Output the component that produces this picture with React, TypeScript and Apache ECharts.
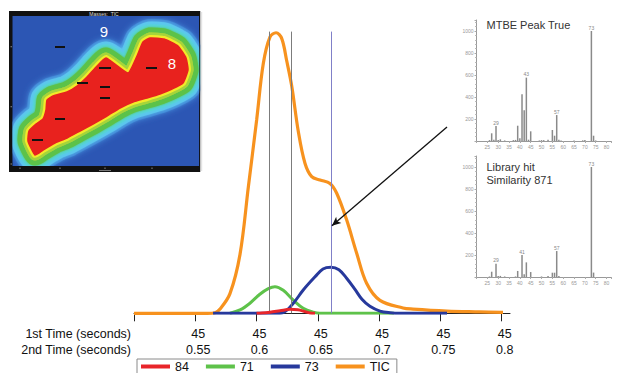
import React, { useEffect, useRef } from 'react';
import * as echarts from 'echarts';

const FONT = '"Liberation Sans", Arial, sans-serif';

// ---------- main chromatogram ----------
const TIME_TICKS = [0.5, 0.55, 0.6, 0.65, 0.7, 0.75, 0.8];
const TIME_LABELS = [0.55, 0.6, 0.65, 0.7, 0.75, 0.8];
const FIRST_TIME_LABEL = '45';
const AXIS_TITLE_1 = '1st Time (seconds)';
const AXIS_TITLE_2 = '2nd Time (seconds)';
const LEGEND_ORDER = ['84', '71', '73', 'TIC'];

const TIC_T = [0.5, 0.53, 0.56, 0.5661, 0.5702, 0.5783, 0.5865, 0.5933, 0.6001, 0.6055, 0.611, 0.6159, 0.6205, 0.6246, 0.6287, 0.634, 0.6395, 0.645, 0.6518, 0.6599, 0.6654, 0.6735, 0.6817, 0.6898, 0.7007, 0.7195, 0.7276, 0.7554, 0.782, 0.8011];
const TIC_V = [0, 0, 0, 0.2, 1.5, 7, 21, 45, 69, 89, 98.5, 100, 98, 90, 81, 65, 53.5, 48.7, 47.5, 46.3, 42.8, 33.3, 21.4, 10.7, 4.6, 1.9, 1.5, 0.8, 0.5, 0.3];

const M71_T = [0.5783, 0.5865, 0.5946, 0.6027, 0.6096, 0.615, 0.6218, 0.63, 0.6381, 0.6463, 0.6517, 0.68, 0.712];
const M71_V = [0, 1.2, 3.6, 6.8, 8.8, 9.5, 8.2, 4.7, 1.8, 0.4, 0, 0, 0];

const M73_T = [0.5645, 0.59, 0.614, 0.6218, 0.63, 0.6381, 0.6477, 0.6542, 0.6607, 0.6672, 0.6735, 0.6803, 0.686, 0.6925, 0.7007, 0.7089, 0.717, 0.7554];
const M73_V = [0, 0, 0, 0.3, 3.6, 8.3, 13, 15.8, 16.4, 15.5, 12.5, 8.5, 5, 2.5, 0.8, 0.2, 0, 0];

const M84_T = [0.6, 0.6044, 0.611, 0.6191, 0.6273, 0.6338, 0.6395, 0.6436, 0.6477];
const M84_V = [0, 0.1, 0.4, 0.9, 1.4, 1.3, 0.6, 0.1, 0];

const GUIDE_TIMES = [0.6104, 0.6287, 0.661];
const GUIDE_COLORS = ['#7c7c7c', '#7c7c7c', '#8080c8'];
const GUIDE_TOP = 100.4;
const ARROW_FROM = [0.7554, 66.4];
const ARROW_TO = [0.6615, 31.2];

// ---------- mass spectra ----------
const MTBE_TITLE = 'MTBE Peak True';
const MTBE_MZ = [26, 27, 28, 29, 30, 31, 33, 37, 38, 39, 40, 41, 42, 43, 44, 45, 49, 50, 51, 53, 55, 56, 57, 58, 59, 65, 69, 70, 73, 74, 75];
const MTBE_INT = [8, 70, 12, 136, 8, 15, 5, 8, 10, 139, 25, 424, 279, 576, 12, 88, 5, 8, 8, 12, 100, 48, 236, 12, 5, 4, 6, 8, 1000, 48, 5];
const MTBE_LABELED = [29, 43, 57, 73];

const LIB_TITLE_1 = 'Library hit';
const LIB_TITLE_2 = 'Similarity 871';
const LIB_MZ = [26, 27, 29, 30, 31, 33, 38, 39, 41, 42, 43, 45, 50, 53, 55, 56, 57, 58, 73, 74];
const LIB_INT = [5, 48, 121, 8, 10, 5, 5, 55, 200, 24, 133, 45, 5, 8, 39, 39, 236, 10, 1000, 40];
const LIB_LABELED = [29, 41, 57, 73];

// ---------- inset (2D contour picture) ----------
const INSET_TITLE = 'Masses:  TIC';
const INSET_OUTLINE = [[35, 155], [28, 141], [29, 131], [36, 124], [43, 119], [46, 110], [47, 100], [53, 96], [67, 92], [77, 86], [87, 77], [97, 66], [106, 58], [128, 73], [137, 56], [143, 42], [150, 38], [164, 39], [178, 46], [186, 58], [188, 70], [183, 83], [172, 89], [160, 94], [147, 98], [133, 102], [120, 108], [107, 116], [93, 124], [80, 131], [67, 138], [55, 143], [43, 150]];
const INSET_DASHES = [[55, 65, 47], [99, 111, 68], [77, 88, 83], [100, 110, 87], [100, 110, 98], [55, 65, 119], [32, 43, 140], [146, 157, 68]];
const INSET_LABELS = [['9', 104, 31], ['8', 172, 63]];

const zip = (xs: number[], ys: number[]) => xs.map((x, i) => [x, ys[i]]);

function specData(mz: number[], inten: number[], labeled: number[]) {
  return mz.map((m, i) => {
    const item: any = { value: [m, inten[i]] };
    if (labeled.includes(m)) {
      item.label = { show: true, position: 'top', formatter: String(m), fontSize: 5, color: '#888', distance: 1, fontFamily: FONT };
    }
    return item;
  });
}

function specX(gridIndex: number) {
  return {
    type: 'value', gridIndex, min: 20, max: 82, interval: 5,
    axisLine: { lineStyle: { color: '#999', width: 1 } },
    axisTick: { length: 2, lineStyle: { color: '#aaa' } },
    axisLabel: { fontSize: 5, color: '#999', margin: 3, fontFamily: FONT, formatter: (v: number) => (v >= 25 && v <= 80 ? String(v) : '') },
    splitLine: { show: false },
  };
}
function specY(gridIndex: number) {
  return {
    type: 'value', gridIndex, min: 0, max: 1100, interval: 200,
    axisLine: { show: true, lineStyle: { color: '#999', width: 1 } },
    axisTick: { show: true, length: 2, lineStyle: { color: '#aaa' } },
    minorTick: { show: true, splitNumber: 5, length: 1.5, lineStyle: { color: '#bbb' } },
    axisLabel: { fontSize: 5, color: '#999', margin: 3, fontFamily: FONT, formatter: (v: number) => (v > 0 && v <= 1000 ? String(v) : '') },
    splitLine: { show: false },
  };
}

function insetGraphics() {
  const els: any[] = [];
  els.push({ type: 'rect', shape: { x: 9, y: 11, width: 191, height: 161 }, style: { fill: '#111' } });
  els.push({ type: 'rect', shape: { x: 12.3, y: 16, width: 187, height: 150 }, style: { fill: '#2c56b4' } });
  const bands: [number, string, number][] = [
    [38, '#3f82d6', 6],
    [33, '#5cc6ee', 4],
    [27, '#55d3d8', 2],
    [21, '#5cc24a', 2],
    [11, '#a6d43a', 1],
    [6, '#f2ea2a', 0],
  ];
  bands.forEach(([lw, c, blur]) => {
    els.push({
      type: 'polygon',
      shape: { points: INSET_OUTLINE, smooth: 0.15 },
      style: { fill: c, stroke: c, lineWidth: lw, lineJoin: 'round', shadowBlur: blur, shadowColor: c },
    });
  });
  els.push({ type: 'polygon', shape: { points: INSET_OUTLINE, smooth: 0.15 }, style: { fill: '#e8221e', stroke: '#e8221e', lineWidth: 1.5, lineJoin: 'round' } });
  INSET_DASHES.forEach(([x1, x2, y]) => {
    els.push({ type: 'line', shape: { x1, y1: y, x2, y2: y }, style: { stroke: '#111', lineWidth: 2 } });
  });
  INSET_LABELS.forEach(([t, x, y]) => {
    els.push({ type: 'text', x: x as number, y: y as number, style: { text: t as string, fill: '#fff', fontSize: 15, fontFamily: FONT, align: 'center', verticalAlign: 'middle' } });
  });
  // frame strips over the picture
  els.push({ type: 'rect', shape: { x: 9, y: 11, width: 3.3, height: 161 }, style: { fill: '#111' } });
  els.push({ type: 'rect', shape: { x: 9, y: 11, width: 191, height: 5 }, style: { fill: '#111' } });
  els.push({ type: 'rect', shape: { x: 9, y: 166, width: 191, height: 6 }, style: { fill: '#111' } });
  els.push({ type: 'rect', shape: { x: 199.3, y: 11, width: 1.2, height: 161 }, style: { fill: '#111' } });
  els.push({ type: 'rect', shape: { x: 200.5, y: 0, width: 16, height: 185 }, style: { fill: '#fff' } });
  els.push({ type: 'rect', shape: { x: 0, y: 172, width: 217, height: 12 }, style: { fill: '#fff' } });
  els.push({ type: 'rect', shape: { x: 0, y: 0, width: 217, height: 11 }, style: { fill: '#fff' } });
  els.push({ type: 'rect', shape: { x: 0, y: 0, width: 9, height: 185 }, style: { fill: '#fff' } });
  els.push({ type: 'line', shape: { x1: 201.7, y1: 12, x2: 201.7, y2: 171 }, style: { stroke: '#ddd', lineWidth: 1 } });
  els.push({ type: 'text', x: 104, y: 13.6, style: { text: INSET_TITLE, fill: '#ddd', fontSize: 5, fontFamily: FONT, align: 'center', verticalAlign: 'middle' } });
  [46.7, 106.7, 164].forEach((y) => els.push({ type: 'rect', shape: { x: 10.5, y: y - 0.5, width: 1.5, height: 1 }, style: { fill: '#888' } }));
  [20, 60, 105, 152].forEach((x) => els.push({ type: 'rect', shape: { x: x - 0.5, y: 167.5, width: 1, height: 1.5 }, style: { fill: '#888' } }));
  els.push({ type: 'rect', shape: { x: 99, y: 170, width: 12, height: 1 }, style: { fill: '#777' } });
  return els;
}

export default function App() {
  const ref = useRef<HTMLDivElement>(null);
  useEffect(() => {
    const chart = echarts.init(ref.current!, null, { renderer: 'svg' });
    const lineBase = { type: 'line', xAxisIndex: 0, yAxisIndex: 0, symbol: 'none', smooth: 0.35, silent: true };
    const option: any = {
      animation: false,
      backgroundColor: '#fff',
      textStyle: { fontFamily: FONT },
      grid: [
        { left: 134, right: 108, top: 18.7, bottom: 59.7 },
        { left: 476.5, right: 7.1, top: 20, bottom: 232 },
        { left: 476.5, right: 7.1, top: 156, bottom: 96 },
      ],
      xAxis: [
        {
          type: 'value', gridIndex: 0, min: 0.5, max: 0.8068, interval: 0.05,
          axisLine: { lineStyle: { color: '#222', width: 1 } },
          axisTick: { customValues: TIME_TICKS, length: 8, lineStyle: { color: '#222' } },
          axisLabel: {
            customValues: TIME_LABELS, fontSize: 12.5, lineHeight: 15.5, margin: 13, color: '#111', fontFamily: FONT,
            padding: [0, 0, 0, 6],
            formatter: (v: number) => `${FIRST_TIME_LABEL}\n${+v.toFixed(2)}`,
          },
          splitLine: { show: false },
        },
        specX(1),
        specX(2),
      ],
      yAxis: [
        { type: 'value', gridIndex: 0, min: 0, max: 105, show: false },
        specY(1),
        specY(2),
      ],
      legend: {
        data: LEGEND_ORDER, left: 137, top: 359, orient: 'horizontal', selectedMode: false,
        borderColor: '#8a8a8a', borderWidth: 1, padding: [1, 7, 4, 4],
        itemWidth: 29, itemHeight: 4, itemGap: 17, icon: 'rect',
        textStyle: { fontSize: 12.5, color: '#111', fontFamily: FONT },
      },
      graphic: [
        ...insetGraphics(),
        { type: 'text', x: 131, y: 334, style: { text: AXIS_TITLE_1, fontSize: 12.5, fill: '#111', fontFamily: FONT, align: 'right', verticalAlign: 'middle' } },
        { type: 'text', x: 131, y: 349.5, style: { text: AXIS_TITLE_2, fontSize: 12.5, fill: '#111', fontFamily: FONT, align: 'right', verticalAlign: 'middle' } },
        { type: 'text', x: 486.5, y: 24.5, style: { text: MTBE_TITLE, fontSize: 11, fill: '#333', fontFamily: FONT, verticalAlign: 'middle' } },
        { type: 'text', x: 486.5, y: 166.5, style: { text: LIB_TITLE_1, fontSize: 11, fill: '#333', fontFamily: FONT, verticalAlign: 'middle' } },
        { type: 'text', x: 486.5, y: 179.5, style: { text: LIB_TITLE_2, fontSize: 11, fill: '#333', fontFamily: FONT, verticalAlign: 'middle' } },
      ],
      series: [
        ...GUIDE_TIMES.map((t, i) => ({
          name: 'guide' + i, type: 'line', xAxisIndex: 0, yAxisIndex: 0, data: [], z: 1, silent: true,
          markLine: {
            silent: true, symbol: 'none', label: { show: false }, animation: false,
            lineStyle: { color: GUIDE_COLORS[i], width: 1, type: 'solid' },
            data: [[{ coord: [t, 0] }, { coord: [t, GUIDE_TOP] }]],
          },
        })),
        { ...lineBase, name: 'TIC', data: zip(TIC_T, TIC_V), lineStyle: { color: '#f7921e', width: 3.2 }, itemStyle: { color: '#f7921e' }, z: 2 },
        { ...lineBase, name: '71', data: zip(M71_T, M71_V), lineStyle: { color: '#5ec24a', width: 3 }, itemStyle: { color: '#5ec24a' }, z: 3 },
        { ...lineBase, name: '73', data: zip(M73_T, M73_V), lineStyle: { color: '#27399c', width: 3 }, itemStyle: { color: '#27399c' }, z: 4 },
        { ...lineBase, name: '84', data: zip(M84_T, M84_V), lineStyle: { color: '#e8252a', width: 3 }, itemStyle: { color: '#e8252a' }, z: 5 },
        {
          name: 'arrow', type: 'line', xAxisIndex: 0, yAxisIndex: 0, data: [], z: 6, silent: true,
          markLine: {
            silent: true, symbol: ['none', 'arrow'], symbolSize: [6, 9], label: { show: false }, animation: false,
            lineStyle: { color: '#111', width: 1.3, type: 'solid' },
            data: [[{ coord: ARROW_FROM }, { coord: ARROW_TO }]],
          },
        },
        {
          name: 'mtbe', type: 'bar', xAxisIndex: 1, yAxisIndex: 1, barWidth: 1.5, silent: true,
          itemStyle: { color: '#8a8a8a' }, data: specData(MTBE_MZ, MTBE_INT, MTBE_LABELED),
        },
        {
          name: 'library', type: 'bar', xAxisIndex: 2, yAxisIndex: 2, barWidth: 1.5, silent: true,
          itemStyle: { color: '#8a8a8a' }, data: specData(LIB_MZ, LIB_INT, LIB_LABELED),
        },
      ],
    };
    chart.setOption(option);
    return () => chart.dispose();
  }, []);
  return <div ref={ref} style={{ position: 'fixed', left: 0, top: 0, width: 618, height: 373, background: '#fff' }} />;
}
